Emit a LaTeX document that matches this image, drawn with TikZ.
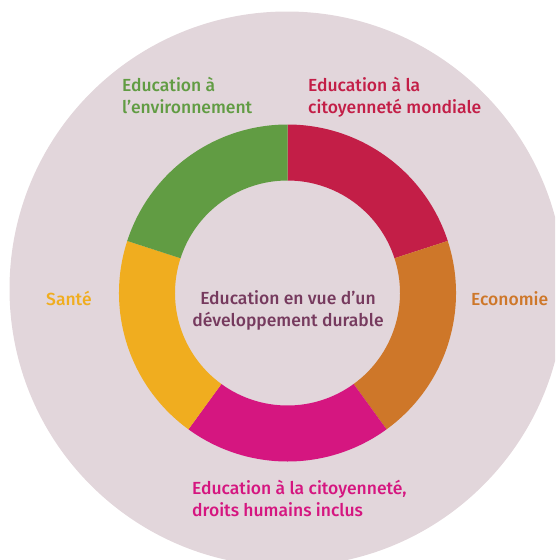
\documentclass[tikz,border=0pt]{standalone}
\usepackage{fontspec}
\usetikzlibrary{calc}
\setmainfont{Fira Sans}[UprightFont={* Medium}]
\definecolor{bgc}{HTML}{E2D6DB}
\definecolor{cgreen}{HTML}{619C43}
\definecolor{cred}{HTML}{C31E47}
\definecolor{corange}{HTML}{CE7729}
\definecolor{cpink}{HTML}{D51680}
\definecolor{cyellow}{HTML}{F0AD1F}
\definecolor{cpurple}{HTML}{763A5E}
\begin{document}
\begin{tikzpicture}[x=1pt,y=1pt,
  lbl/.style={inner sep=0pt, align=left, font=\fontsize{17.5}{21.5}\selectfont}]
\useasboundingbox (0,0) rectangle (555,-560);
\clip (0,0) rectangle (555,-560);
\fill[bgc] (287,-289) circle (277.5);
\coordinate (c) at (287.5,-293);
\def\Ro{168.5}\def\Ri{112.5}
\foreach \a/\col in {90/cred,18/corange,-54/cpink,-126/cyellow,-198/cgreen}{
  \pgfmathsetmacro{\b}{\a-72}
  \fill[\col] ($(c)+(\a:\Ro)$) arc[start angle=\a, end angle=\b, radius=\Ro]
    -- ($(c)+(\b:\Ri)$) arc[start angle=\b, end angle=\a, radius=\Ri] -- cycle;
}
\node[lbl, text=cgreen, anchor=base west] (env) at (122,-113) {Education à\\l’environnement};
\node[lbl, text=cred, anchor=base west] (mond) at (308,-113) {Education à la\\citoyenneté mondiale};
\node[lbl, text=cyellow, anchor=base west] (sante) at (46,-305) {Santé};
\node[lbl, text=corange, anchor=base west] (eco) at (471,-305) {Economie};
\node[lbl, text=cpurple, align=center, anchor=base] (edd) at (288,-326) {Education en vue d’un\\développement durable};
\node[lbl, text=cpink, anchor=base west] (cit) at (192,-516) {Education à la citoyenneté,\\droits humains inclus};
\end{tikzpicture}
\end{document}
